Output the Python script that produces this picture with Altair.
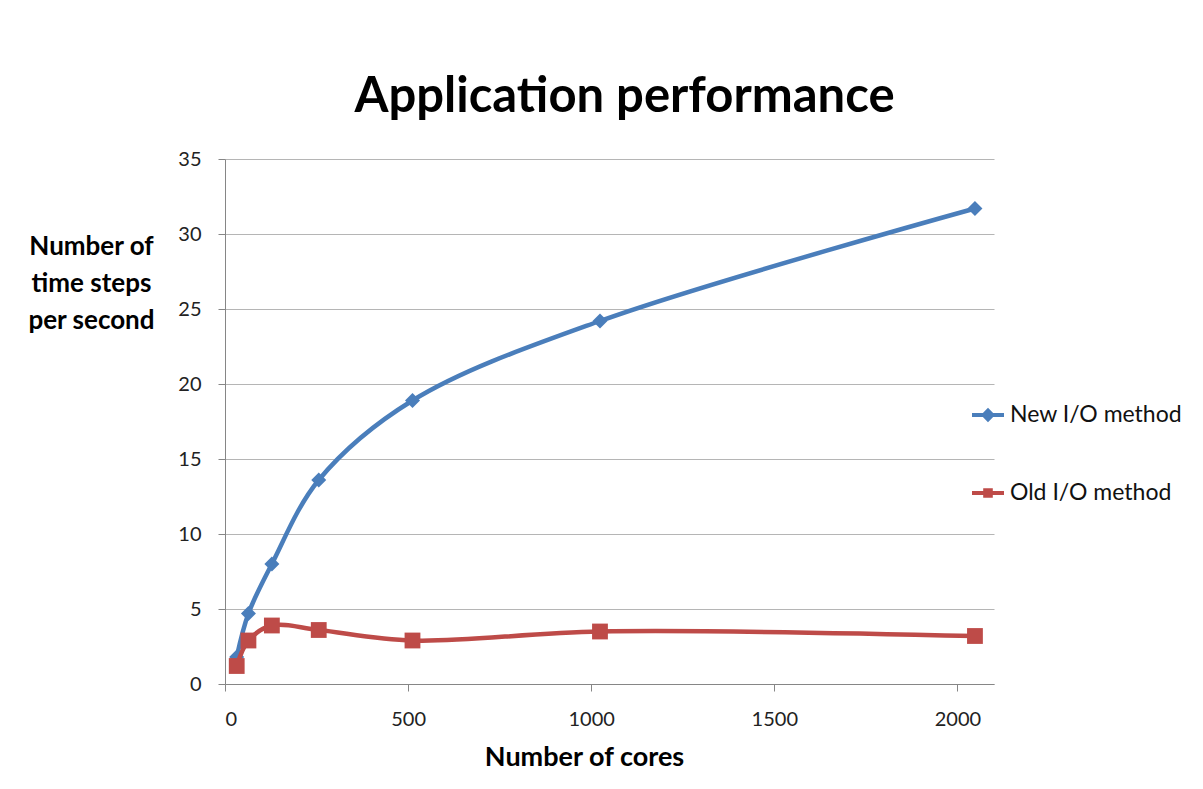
import altair as alt
import pandas as pd

cores = [32, 64, 128, 256, 512, 1024, 2048]
new_io = [1.8, 4.7, 8.0, 13.6, 18.9, 24.2, 31.7]
old_io = [1.2, 2.9, 3.9, 3.6, 2.9, 3.5, 3.2]
series_names = ["New I/O method", "Old I/O method"]
series_colors = ["#4A7EBB", "#BE4B48"]
x_ticks = [0, 500, 1000, 1500, 2000]
y_ticks = [0, 5, 10, 15, 20, 25, 30, 35]

rows = []
for c, v in zip(cores, new_io):
    rows.append({"cores": c, "value": v, "series": series_names[0]})
for c, v in zip(cores, old_io):
    rows.append({"cores": c, "value": v, "series": series_names[1]})
df = pd.DataFrame(rows)

FONT = "Lato"

x_enc = alt.X("cores:Q", scale=alt.Scale(domain=[0, 2100], nice=False),
              axis=alt.Axis(values=x_ticks, title="Number of cores", grid=False,
                            format="d",
                            titleX=359, titleY=73, titleBaseline="middle",
                            titleFontSize=27, titleFontWeight="bold",
                            labelPadding=18))
y_enc = alt.Y("value:Q", scale=alt.Scale(domain=[0, 35], nice=False),
              axis=alt.Axis(values=y_ticks, title=["Number of", "time steps", "per second"],
                            grid=True, titleAngle=0, titleAlign="center",
                            titleBaseline="middle", titleX=-134, titleY=87,
                            titleLineHeight=37, titleFontSize=26, titleFontWeight="bold",
                            labelPadding=17))
color_scale = alt.Scale(domain=series_names, range=series_colors)


def series_layers(name, color, shape, size):
    base = alt.Chart(df).transform_filter(alt.datum.series == name)
    line = base.mark_line(interpolate="catmull-rom", strokeWidth=4.5, color=color).encode(
        x=x_enc, y=y_enc)
    pts = base.mark_point(shape=shape, filled=True, size=size, opacity=1, color=color).encode(
        x="cores:Q", y="value:Q")
    return [line, pts]


diamond_path = ("M-1,-0.13L-0.32,-0.13L0,-0.45L0.32,-0.13L1,-0.13L1,0.13"
                "L0.32,0.13L0,0.45L-0.32,0.13L-1,0.13Z")
square_path = ("M-1,-0.13L-0.3,-0.13L-0.3,-0.3L0.3,-0.3L0.3,-0.13L1,-0.13L1,0.13"
               "L0.3,0.13L0.3,0.3L-0.3,0.3L-0.3,0.13L-1,0.13Z")

legend_props = dict(orient="none", legendX=747, legendY=240,
                    symbolSize=1024, symbolOpacity=1,
                    symbolStrokeWidth=0, rowPadding=50,
                    labelFontSize=23, labelFont=FONT, labelLimit=400,
                    labelColor="#111", labelOffset=6,
                    padding=0, title=None)

legend_layer = alt.Chart(df).transform_filter("false").mark_point(filled=True).encode(
    x="cores:Q", y="value:Q",
    color=alt.Color("series:N", scale=color_scale, title=None,
                    legend=alt.Legend(**legend_props)),
    shape=alt.Shape("series:N", scale=alt.Scale(domain=series_names,
                                                range=[diamond_path, square_path]),
                    title=None, legend=alt.Legend(**legend_props)),
)

layers = (series_layers(series_names[0], series_colors[0], "diamond", 225)
          + series_layers(series_names[1], series_colors[1], "square", 250)
          + [legend_layer])

chart = alt.layer(*layers).properties(
    width=769, height=525,
    autosize=alt.AutoSizeParams(type="none"),
    padding={"left": 217, "top": 151, "right": 200, "bottom": 97},
    background="white",
    title=alt.TitleParams("Application performance", fontSize=49, font=FONT,
                          fontWeight="bold", anchor="middle", dx=15, offset=27,
                          color="#000"),
).configure_axis(
    domainColor="#868686", tickColor="#868686", tickSize=7,
    gridColor="#b5b5b5", labelFont=FONT, titleFont=FONT,
    labelFontSize=20, labelColor="#222", titleColor="#000",
).configure_view(stroke="transparent")

chart.save("out.html", embed_options={"renderer": "svg", "actions": False})
